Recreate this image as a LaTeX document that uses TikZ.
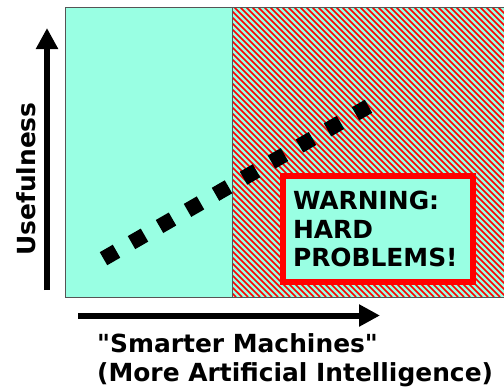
\documentclass[tikz,border=0pt]{standalone}
\usepackage{fontspec}
\setmainfont{DejaVu Sans}[Ligatures=TeXOff]
\usetikzlibrary{arrows.meta}
\definecolor{aqua}{HTML}{99FFE3}
\definecolor{frameg}{HTML}{555555}
\definecolor{warnred}{HTML}{FF0000}

\begin{document}
\begin{tikzpicture}[x=1bp,y=-1bp,font=\fontsize{25}{29}\selectfont\bfseries,
    axis/.style={line width=6bp,-{Triangle[length=21bp,width=21bp]}},
    trend/.style={line width=15bp,dash pattern=on 15bp off 17.3bp},
    hatch/.style={warnred,line width=1.5bp}]
    \useasboundingbox (0,0) rectangle (504,387);
    \clip (0,0) rectangle (504,387);
    % plot area: easy part and hatched hard part
    \fill[aqua] (65,7) rectangle (504,297);
    \begin{scope}
      \clip (232,7) rectangle (504,297);
      \foreach \s in {-10,...,84}
        \draw[hatch] ({\s*6},7) -- ({\s*6+290},297);
    \end{scope}
    \draw[frameg] (504,7) -- (65,7) -- (65,297) -- (504,297);
    \draw[frameg] (232,7) -- (232,297);
    % trend of usefulness
    \coordinate (trendlo) at (103.5,258.7);
    \coordinate (trendhi) at (368.5,106.3);
    \draw[trend] (trendlo) -- (trendhi);
    \node[draw=warnred,line width=6bp,fill=aqua,align=left,text width=170bp,
      inner xsep=10bp,minimum height=106bp] (warning) at (378,229)
      {WARNING:\\HARD\\PROBLEMS!};
    % axes
    \coordinate (yfoot) at (47,290);
    \coordinate (ytip) at (47,28);
    \draw[axis] (yfoot) -- (ytip);
    \coordinate (xfoot) at (78,315.5);
    \coordinate (xtip) at (380,315.5);
    \draw[axis] (xfoot) -- (xtip);
    \node[rotate=90,anchor=base,inner sep=0] (ylabel) at (35,179) {Usefulness};
    \node[anchor=base west,align=left,inner sep=0] (xlabel) at (97,381)
      {"Smarter Machines"\\(More Artificial Intelligence)};
\end{tikzpicture}
\end{document}
